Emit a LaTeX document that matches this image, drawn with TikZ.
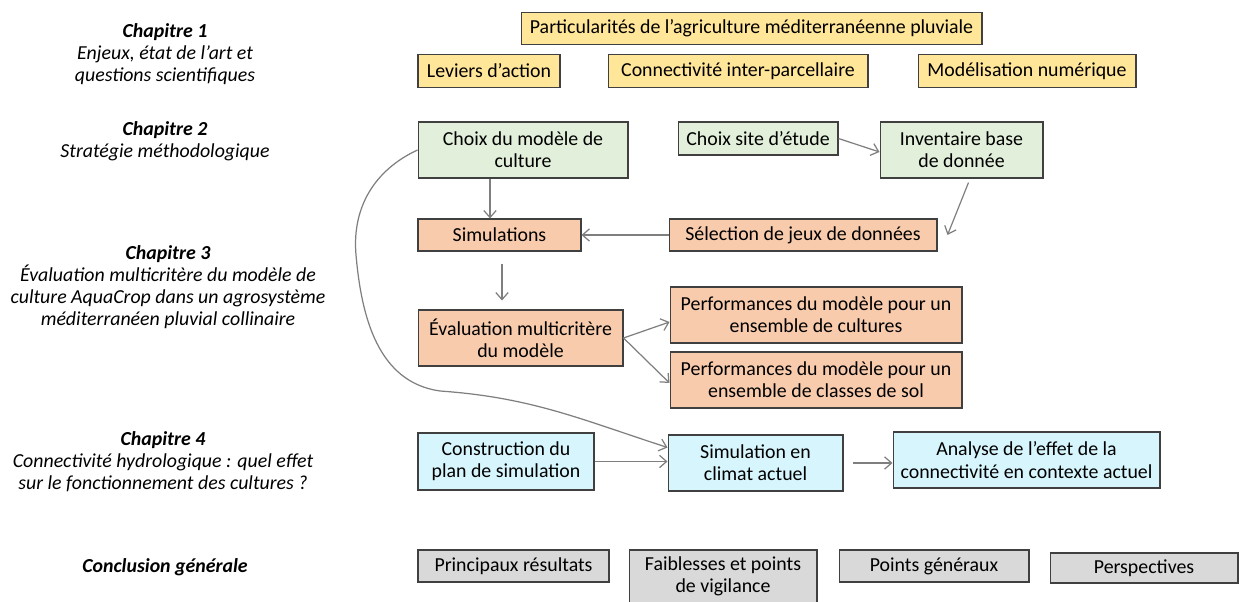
\documentclass[tikz,border=0pt]{standalone}
\usepackage{fontspec}
\setmainfont{Carlito}
\usetikzlibrary{arrows.meta}

\definecolor{jaune}{HTML}{FFE699}
\definecolor{vert}{HTML}{E2EFDA}
\definecolor{saumon}{HTML}{F8CBAD}
\definecolor{ciel}{HTML}{D7F5FC}
\definecolor{gris}{HTML}{D9D9D9}
\definecolor{trait}{HTML}{404040}
\definecolor{fleche}{HTML}{7F7F7F}

\tikzset{
  boite/.style={draw=trait, line width=0.6pt, inner sep=0pt, align=center,
    font=\fontsize{11.3}{12.6}\selectfont},
  bjaune/.style={boite, fill=jaune, minimum height=0.65cm},
  bvert/.style={boite, fill=vert},
  bsaumon/.style={boite, fill=saumon},
  bciel/.style={boite, fill=ciel},
  bgris/.style={boite, fill=gris},
  chap/.style={align=center, inner sep=0pt, font=\fontsize{11.3}{12.6}\selectfont\itshape},
  fl/.style={draw=fleche, line width=0.7pt, -{Straight Barb[length=4pt,width=7pt]}}
}

\begin{document}
\begin{tikzpicture}[x=0.02cm, y=-0.02cm]
  \useasboundingbox (0,0) rectangle (1239,601);
  % chapitres
  \node[chap] (ch1) at (165,54) {\textbf{Chapitre 1}\\Enjeux, état de l’art et\\questions scientifiques};
  \node[chap] (ch2) at (165,141) {\textbf{Chapitre 2}\\Stratégie méthodologique};
  \node[chap] (ch3) at (168,287) {\textbf{Chapitre 3}\\Évaluation multicritère du modèle de\\culture AquaCrop dans un agrosystème\\méditerranéen pluvial collinaire};
  \node[chap] (ch4) at (163,462) {\textbf{Chapitre 4}\\Connectivité hydrologique : quel effet\\sur le fonctionnement des cultures ?};
  \node[chap] (concl) at (165,567) {\textbf{Conclusion générale}};
  % chapitre 1
  \node[bjaune, minimum width=9.22cm] (part) at (751.5,28.5) {Particularités de l’agriculture méditerranéenne pluviale};
  \node[bjaune, minimum width=2.84cm] (lev) at (489,71) {Leviers d’action};
  \node[bjaune, minimum width=5.2cm] (conn) at (738,71) {Connectivité inter-parcellaire};
  \node[bjaune, minimum width=4.36cm] (modnum) at (1027,71) {Modélisation numérique};
  % chapitre 2
  \node[bvert, minimum width=4.2cm, minimum height=1.12cm] (choix) at (523,150) {Choix du modèle de\\culture};
  \node[bvert, minimum width=3.2cm, minimum height=0.66cm] (site) at (758,138.5) {Choix site d’étude};
  \node[bvert, minimum width=3.26cm, minimum height=1.12cm] (inv) at (961.5,150) {Inventaire base\\de donnée};
  % chapitre 3
  \node[bsaumon, minimum width=3.26cm, minimum height=0.64cm] (simu) at (499.5,235) {Simulations};
  \node[bsaumon, minimum width=5.36cm, minimum height=0.64cm] (selec) at (803,235) {Sélection de jeux de données};
  \node[bsaumon, minimum width=4.1cm, minimum height=1.12cm] (eval) at (520.5,338) {Évaluation multicritère\\du modèle};
  \node[bsaumon, minimum width=5.84cm, minimum height=1.12cm] (perfa) at (816,315) {Performances du modèle pour un\\ensemble de cultures};
  \node[bsaumon, minimum width=5.84cm, minimum height=1.12cm] (perfb) at (816,380) {Performances du modèle pour un\\ensemble de classes de sol};
  % chapitre 4
  \node[bciel, minimum width=3.52cm, minimum height=1.14cm] (constr) at (506,461.5) {Construction du\\plan de simulation};
  \node[bciel, minimum width=3.5cm, minimum height=1.12cm] (simclim) at (755.5,463) {Simulation en\\climat actuel};
  \node[bciel, minimum width=5.34cm, minimum height=1.12cm] (analyse) at (1026.5,460) {Analyse de l’effet de la\\connectivité en contexte actuel};
  % conclusion
  \node[bgris, minimum width=3.82cm, minimum height=0.64cm] (princ) at (513.5,566) {Principaux résultats};
  \node[bgris, minimum width=3.76cm, minimum height=1.06cm] (faib) at (723,576.5) {Faiblesses et points\\de vigilance};
  \node[bgris, minimum width=3.8cm, minimum height=0.64cm] (pgen) at (934,566) {Points généraux};
  \node[bgris, minimum width=3.76cm, minimum height=0.6cm] (persp) at (1144,568) {Perspectives};
  % fleches
  \draw[fl] ([xshift=-0.66cm]choix.south) -- ([xshift=-0.66cm]choix.south |- simu.north);
  \draw[fl] (site.east) -- ([yshift=-0.04cm]inv.west);
  \draw[fl] ([xshift=0.14cm,yshift=-0.08cm]inv.south) -- ([xshift=0.2cm]selec.east);
  \draw[fl] (selec.west) -- (simu.east);
  \draw[fl] ([xshift=0.05cm,yshift=-0.24cm]simu.south) -- ([xshift=0.05cm,yshift=-0.98cm]simu.south);
  \draw[fl] (eval.east) -- ([yshift=-0.14cm]perfa.west);
  \draw[fl] (eval.east) -- ([yshift=-0.06cm]perfb.west);
  \draw[fl] (choix.west) to[out=205,in=95] (356,255) to[out=-85,in=172] (440,391) to[out=-4,in=162] (simclim.170);
  \draw[fl] (constr.east) -- (constr.east -| simclim.west);
  \draw[fl, shorten <=0.18cm] (simclim.east) -- (simclim.east -| analyse.west);
\end{tikzpicture}
\end{document}
